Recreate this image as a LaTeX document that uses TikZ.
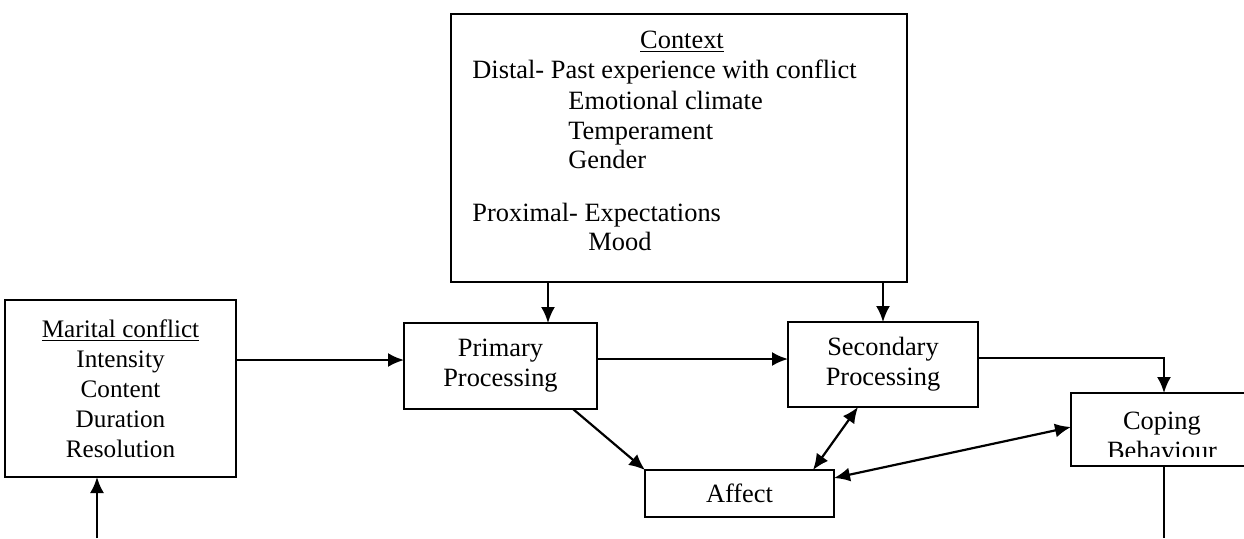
\documentclass[tikz,border=0pt]{standalone}
\usepackage{fontspec}
\setmainfont{Liberation Serif}
\usetikzlibrary{arrows.meta}
\begin{document}
\begin{tikzpicture}[x=0.5pt,y=-0.5pt,
  box/.style={draw,line width=1.1pt,inner sep=0pt,outer sep=0pt,align=center,
    font=\fontsize{13.2}{15}\selectfont},
  lbl/.style={inner sep=0pt,font=\fontsize{13.2}{15}\selectfont},
  tip/.tip={Latex[length=8pt,width=7pt]},
  link/.style={line width=1.1pt,-tip},
  twoway/.style={line width=1.1pt,tip-tip},
  plain/.style={line width=1.1pt}]
\useasboundingbox (0,0) rectangle (1244,538);

% context box with its factor list
\node[box,minimum width=228pt,minimum height=134pt] (context) at (679,148) {};
\node[lbl,anchor=base] (ctxtitle) at (682,48) {\underline{Context}};
\node[lbl,anchor=base west] (distal) at (472,78) {Distal- Past experience with conflict};
\node[lbl,anchor=base west] (climate) at (568,109) {Emotional climate};
\node[lbl,anchor=base west] (temper) at (568,139) {Temperament};
\node[lbl,anchor=base west] (gender) at (568,168) {Gender};
\node[lbl,anchor=base west] (proximal) at (472,221) {Proximal- Expectations};
\node[lbl,anchor=base west] (mood) at (588,250) {Mood};

% process boxes
\node[box,minimum width=115.5pt,minimum height=88.5pt,font=\fontsize{12.6}{15}\selectfont]
  (marital) at (120.5,388.5) {\underline{Marital conflict}\\Intensity\\Content\\Duration\\Resolution};
\node[box,minimum width=96.5pt,minimum height=43pt] (primary) at (500.5,366) {Primary\\Processing};
\node[box,minimum width=95pt,minimum height=42.5pt] (secondary) at (883,364.5) {Secondary\\Processing};
\node[box,minimum width=91pt,minimum height=36.5pt] (coping) at (1162,429.5) {};
\begin{scope}
  \clip (1060,380) rectangle (1244,456);
  \node[lbl,align=center] (copingtext) at (1162,436) {Coping\\Behaviour};
\end{scope}
\node[box,minimum width=94.5pt,minimum height=23.5pt] (affect) at (739.5,493.5) {Affect};

% free ends at the lower edge
\coordinate (feedin) at (97,538);
\coordinate (copingout) at (1164,538);

% connectors
\draw[link] (feedin) -- (marital.south -| feedin);
\draw[link] (marital.east |- 0,360) -- (primary.west |- 0,360);
\draw[link] (context.south -| 548,0) -- (primary.north -| 548,0);
\draw[link] (context.south -| 883,0) -- (secondary.north -| 883,0);
\draw[link] (primary.east |- 0,359) -- (secondary.west |- 0,359);
\draw[link] (secondary.east |- 0,358) -| (coping.north -| 1164,0);
\draw[plain] (coping.south -| copingout) -- (copingout);
\draw[link] (primary.south -| 573,0) -- (affect.north west);
\draw[twoway] (secondary.south -| 858,0) -- (affect.north -| 813,0);
\draw[twoway] (affect.east |- 0,478) -- (coping.west |- 0,427);
\end{tikzpicture}
\end{document}
